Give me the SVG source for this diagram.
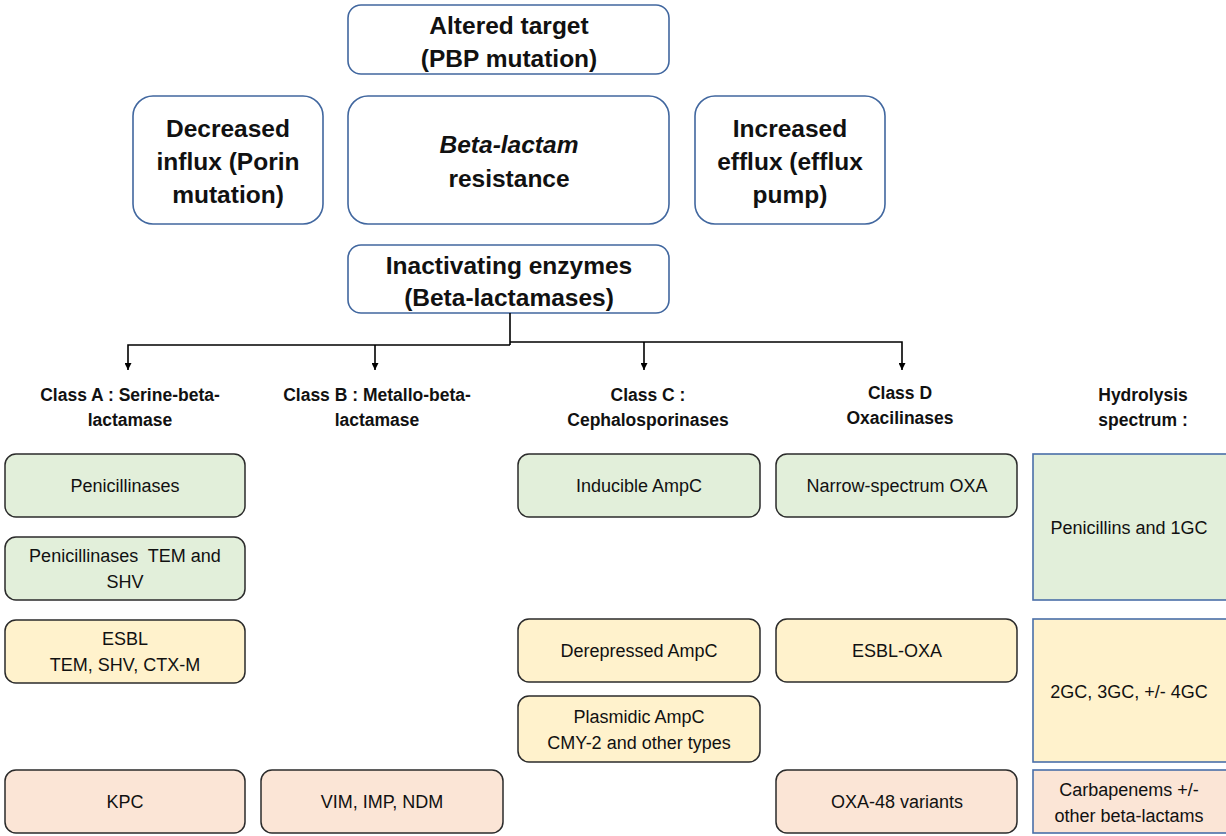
<svg xmlns="http://www.w3.org/2000/svg" width="1226" height="836" viewBox="0 0 1226 836">
<style>
.top{fill:#fff;stroke:#41679f;stroke-width:1.6}
.t{font-family:"Liberation Sans",Arial,sans-serif;font-size:24.5px;font-weight:bold;fill:#111;text-anchor:middle}
.c{font-family:"Liberation Sans",Arial,sans-serif;font-size:17.5px;font-weight:bold;fill:#111;text-anchor:middle}
.b{font-family:"Liberation Sans",Arial,sans-serif;font-size:18px;fill:#111;text-anchor:middle}
.g{fill:#e2efda;stroke:#2b2b2b;stroke-width:1.5}
.y{fill:#fff2cc;stroke:#2b2b2b;stroke-width:1.5}
.r{fill:#fbe5d6;stroke:#2b2b2b;stroke-width:1.5}
.hg{fill:#e2efda;stroke:#4a6fa8;stroke-width:1.6}
.hy{fill:#fff2cc;stroke:#4a6fa8;stroke-width:1.6}
.hr{fill:#fbe5d6;stroke:#4a6fa8;stroke-width:1.6}
.ln{fill:none;stroke:#000;stroke-width:1.6}
</style>
<defs>
<marker id="ah" viewBox="0 0 10 10" refX="10" refY="5" markerWidth="7" markerHeight="7" orient="auto" markerUnits="userSpaceOnUse"><path d="M0,0 L10,5 L0,10 z" fill="#000"/></marker>
</defs>
<rect width="1226" height="836" fill="#fff"/>
<g id="altered"><rect class="top" x="348" y="5" width="321" height="69" rx="13"/><text class="t" x="509" y="34">Altered target</text><text class="t" x="509" y="67">(PBP mutation)</text></g>
<g id="influx"><rect class="top" x="133" y="96" width="190" height="128" rx="20"/><text class="t" x="228" y="137">Decreased</text><text class="t" x="228" y="170">influx (Porin</text><text class="t" x="228" y="203">mutation)</text></g>
<g id="resistance"><rect class="top" x="348" y="96" width="321" height="128" rx="20"/><text class="t" x="509" y="153"><tspan font-style="italic">Beta-lactam</tspan></text><text class="t" x="509" y="187">resistance</text></g>
<g id="efflux"><rect class="top" x="695" y="96" width="190" height="128" rx="20"/><text class="t" x="790" y="137">Increased</text><text class="t" x="790" y="170">efflux (efflux</text><text class="t" x="790" y="203">pump)</text></g>
<g id="enzymes"><rect class="top" x="348" y="245" width="321" height="68" rx="13"/><text class="t" x="509" y="274">Inactivating enzymes</text><text class="t" x="509" y="306">(Beta-lactamases)</text></g>
<g id="connectors">
<path class="ln" d="M510,313 V345"/>
<path class="ln" d="M510,345 H128 V370" marker-end="url(#ah)"/>
<path class="ln" d="M375,345 V370" marker-end="url(#ah)"/>
<path class="ln" d="M510,342 H902 V370" marker-end="url(#ah)"/>
<path class="ln" d="M644,342 V370" marker-end="url(#ah)"/>
</g>
<g id="classA"><text class="c" x="130" y="401">Class A : Serine-beta-</text><text class="c" x="130" y="426">lactamase</text></g>
<g id="classB"><text class="c" x="377" y="401">Class B : Metallo-beta-</text><text class="c" x="377" y="426">lactamase</text></g>
<g id="classC"><text class="c" x="648" y="401">Class C :</text><text class="c" x="648" y="426">Cephalosporinases</text></g>
<g id="classD"><text class="c" x="900" y="399">Class D</text><text class="c" x="900" y="424">Oxacilinases</text></g>
<g id="hydro"><text class="c" x="1143" y="401">Hydrolysis</text><text class="c" x="1143" y="426">spectrum :</text></g>
<g id="penicillinases"><rect class="g" x="5" y="454" width="240" height="63" rx="11"/><text class="b" x="125" y="492">Penicillinases</text></g>
<g id="tem-shv"><rect class="g" x="5" y="537" width="240" height="63" rx="11"/><text class="b" x="125" y="562" xml:space="preserve">Penicillinases  TEM and</text><text class="b" x="125" y="588">SHV</text></g>
<g id="esbl"><rect class="y" x="5" y="620" width="240" height="63" rx="11"/><text class="b" x="125" y="645">ESBL</text><text class="b" x="125" y="671">TEM, SHV, CTX-M</text></g>
<g id="kpc"><rect class="r" x="5" y="770" width="240" height="63" rx="11"/><text class="b" x="125" y="808">KPC</text></g>
<g id="vim"><rect class="r" x="261" y="770" width="242" height="63" rx="11"/><text class="b" x="382" y="808">VIM, IMP, NDM</text></g>
<g id="inducible"><rect class="g" x="518" y="454" width="242" height="63" rx="11"/><text class="b" x="639" y="492">Inducible AmpC</text></g>
<g id="narrow-oxa"><rect class="g" x="776" y="454" width="241" height="63" rx="11"/><text class="b" x="897" y="492">Narrow-spectrum OXA</text></g>
<g id="derepressed"><rect class="y" x="518" y="619" width="242" height="63" rx="11"/><text class="b" x="639" y="657">Derepressed AmpC</text></g>
<g id="esbl-oxa"><rect class="y" x="776" y="619" width="241" height="63" rx="11"/><text class="b" x="897" y="657">ESBL-OXA</text></g>
<g id="plasmidic"><rect class="y" x="518" y="696" width="242" height="66" rx="11"/><text class="b" x="639" y="723">Plasmidic AmpC</text><text class="b" x="639" y="749">CMY-2 and other types</text></g>
<g id="oxa48"><rect class="r" x="776" y="770" width="241" height="63" rx="11"/><text class="b" x="897" y="808">OXA-48 variants</text></g>
<g id="spec1"><rect class="hg" x="1033" y="454" width="200" height="146"/><text class="b" x="1129" y="534">Penicillins and 1GC</text></g>
<g id="spec2"><rect class="hy" x="1033" y="619" width="200" height="143"/><text class="b" x="1129" y="698">2GC, 3GC, +/- 4GC</text></g>
<g id="spec3"><rect class="hr" x="1033" y="770" width="200" height="63"/><text class="b" x="1129" y="796">Carbapenems +/-</text><text class="b" x="1129" y="822">other beta-lactams</text></g>
</svg>
